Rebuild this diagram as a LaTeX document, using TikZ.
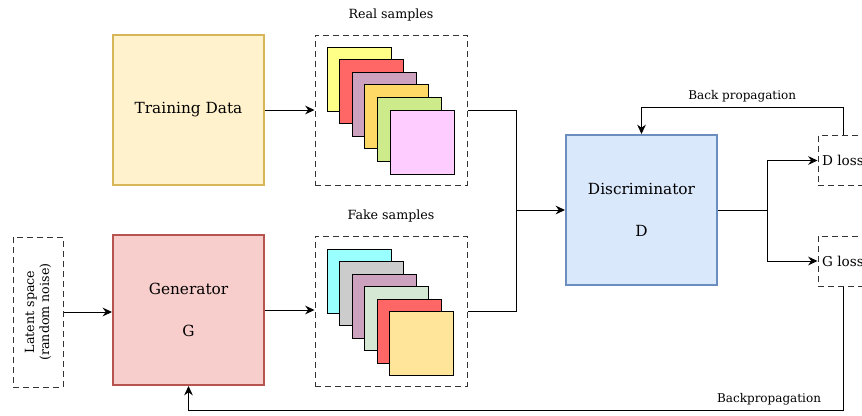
\documentclass[tikz,border=0pt]{standalone}
\usepackage{fontspec}
\setmainfont{DejaVu Serif}
\usepackage{xcolor}
\usetikzlibrary{arrows.meta}
\definecolor{trainfill}{HTML}{FFF2CC}
\definecolor{traindraw}{HTML}{D6B656}
\definecolor{genfill}{HTML}{F8CECC}
\definecolor{gendraw}{HTML}{B85450}
\definecolor{discfill}{HTML}{DAE8FC}
\definecolor{discdraw}{HTML}{6C8EBF}
\definecolor{cyellow}{HTML}{FFFF88}
\definecolor{cred}{HTML}{FF6666}
\definecolor{cpurple}{HTML}{CDA2BE}
\definecolor{corange}{HTML}{FFD966}
\definecolor{cgreen}{HTML}{CDEB8B}
\definecolor{cpink}{HTML}{FFCCFF}
\definecolor{ccyan}{HTML}{99FFFF}
\definecolor{cgrey}{HTML}{CCCCCC}
\definecolor{cmint}{HTML}{D5E8D4}
\definecolor{cpeach}{HTML}{FFE599}
\tikzset{
  block/.style={draw, line width=1.5pt, minimum width=113.25pt, minimum height=112.5pt, align=center, inner sep=0pt, font=\fontsize{11.5}{13.8}\selectfont},
  dashbox/.style={draw=black!80, line width=0.75pt, dash pattern=on 4.5pt off 3pt, inner sep=0pt},
  lossbox/.style={dashbox, minimum width=37.5pt, minimum height=37.5pt, font=\fontsize{10.2}{12}\selectfont},
  sample/.style={draw, line width=0.75pt, minimum size=48pt, inner sep=0pt},
  conn/.style={line width=0.75pt},
  arr/.style={conn, -{Stealth[length=7pt,width=6.5pt]}},
  edgelabel/.style={above, font=\fontsize{9}{11}\selectfont}
}
\begin{document}
\begin{tikzpicture}[x=0.75pt, y=-0.75pt, font=\fontsize{9.5}{11.4}\selectfont]
\useasboundingbox (0,0) rectangle (862,415);

\node[block, fill=trainfill, draw=traindraw] (train) at (188.5,110) {Training Data};
\node[block, fill=genfill, draw=gendraw] (gen) at (188.5,310) {Generator\\[18pt]G};
\node[block, fill=discfill, draw=discdraw] (disc) at (641.5,210) {Discriminator\\[18pt]D};
\node[dashbox, minimum width=37.5pt, minimum height=112.5pt] (latent) at (38,312) {};
\node[rotate=90, align=center] (latenttext) at (latent.center) {Latent space\\(random noise)};

\node[dashbox, minimum width=114pt, minimum height=112.5pt] (realbox) at (391,110) {};
\node[dashbox, minimum width=114pt, minimum height=112.5pt] (fakebox) at (391,311) {};
\node (reallabel) at (391,15) {Real samples};
\node (fakelabel) at (391,216) {Fake samples};
\foreach \c [count=\i from 0] in {cyellow,cred,cpurple,corange,cgreen,cpink}
  \node[sample, fill=\c] (real\i) at ({359+12.6*\i},{79+12.6*\i}) {};
\foreach \c [count=\i from 0] in {ccyan,cgrey,cpurple,cmint,cred,cpeach}
  \node[sample, fill=\c] (fake\i) at ({359+12.5*\i},{281+12.5*\i}) {};

\node[lossbox] (dloss) at (843,160.5) {D loss};
\node[lossbox] (gloss) at (843,261) {G loss};

\coordinate (merge) at (516,210);
\coordinate (split) at (767,210);
\coordinate (dtop) at (843,107);
\coordinate (gbot) at (843,410);

\draw[arr] (train.east) -- (train.east -| realbox.west);
\draw[arr] (latent.east) -- (latent.east -| gen.west);
\draw[arr] (gen.east) -- (gen.east -| fakebox.west);
\draw[conn] (realbox.east) -| (merge);
\draw[conn] (fakebox.east) -| (merge);
\draw[arr] (merge) -- (disc.west);
\draw[conn] (disc.east) -- (split);
\draw[arr] (split) |- (dloss.west);
\draw[arr] (split) |- (gloss.west);
\draw[arr] (dloss.north) -- (dtop) -- node[edgelabel] {Back propagation} (dtop -| disc.north) -- (disc.north);
\draw[arr] (gloss.south) -- (gbot) -- node[edgelabel, pos=0.113] {Backpropagation} (gbot -| gen.south) -- (gen.south);
\end{tikzpicture}
\end{document}
